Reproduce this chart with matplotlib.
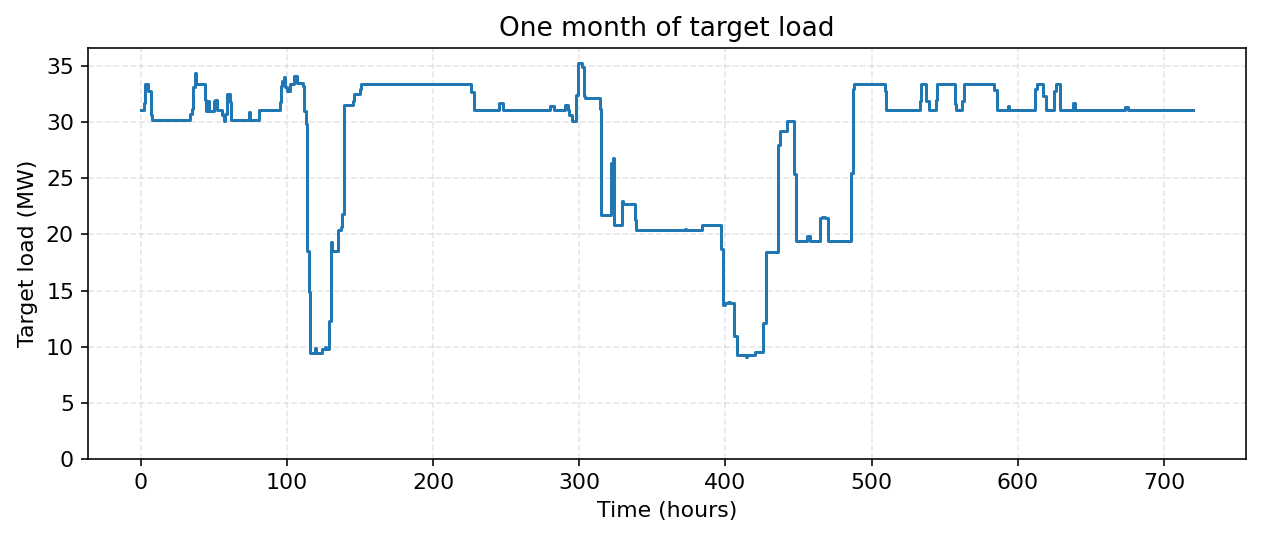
import numpy as np
import matplotlib
matplotlib.use("Agg")
from matplotlib import pyplot as plt

# breakpoints of the hourly target load (value holds until next hour listed)
hours = [0, 2, 3, 5, 7, 8, 34, 35, 36, 37, 38, 44, 45, 46, 47, 50, 51, 52,
         56, 57, 58, 59, 61, 62, 74, 75, 81, 95, 96, 97, 98, 99, 100, 102,
         105, 107, 111, 112, 113, 114, 115, 116, 119, 120, 124, 126, 127,
         129, 130, 131, 135, 137, 138, 139, 145, 146, 150, 151, 226, 228,
         245, 248, 280, 283, 290, 292, 293, 295, 298, 299, 302, 303, 304,
         314, 315, 322, 323, 324, 329, 330, 338, 339, 372, 373, 384, 397,
         398, 400, 402, 403, 406, 408, 414, 415, 420, 424, 426, 428, 436,
         437, 442, 447, 448, 456, 458, 465, 466, 468, 470, 486, 487, 488,
         509, 510, 533, 534, 537, 539, 544, 545, 557, 558, 562, 563, 584,
         586, 593, 594, 612, 613, 617, 619, 625, 626, 629, 638, 639, 673,
         675, 720]
load = [31.1, 31.7, 33.4, 32.8, 30.6, 30.2, 30.7, 31.2, 33.1, 34.4, 33.4,
        32.0, 31.0, 31.9, 31.0, 31.9, 32.0, 31.1, 30.6, 30.1, 30.7, 32.5,
        31.8, 30.2, 30.9, 30.2, 31.1, 31.8, 33.2, 33.7, 34.0, 33.1, 32.8,
        33.4, 34.1, 33.5, 33.2, 31.0, 29.8, 18.5, 14.9, 9.4, 9.9, 9.4, 9.8,
        10.0, 9.8, 12.3, 19.3, 18.5, 20.4, 20.7, 21.8, 31.5, 31.9, 32.5,
        33.0, 33.4, 32.7, 31.1, 31.7, 31.1, 31.4, 31.1, 31.55, 31.1, 30.6,
        30.1, 32.4, 35.3, 34.9, 32.3, 32.2, 31.2, 21.7, 26.4, 26.8, 20.8,
        23.0, 22.7, 21.3, 20.4, 20.5, 20.4, 20.8, 18.7, 13.7, 13.9, 14.0,
        13.9, 11.0, 9.3, 9.1, 9.3, 9.5, 9.55, 12.1, 18.4, 28.0, 29.2, 30.1,
        25.4, 19.4, 19.9, 19.4, 21.5, 21.6, 21.5, 19.4, 25.5, 33.0, 33.4,
        32.8, 31.1, 31.9, 33.4, 31.9, 31.1, 32.0, 33.4, 31.6, 31.1, 31.9,
        33.4, 32.9, 31.1, 31.4, 31.1, 33.0, 33.4, 32.3, 31.1, 32.8, 33.4,
        31.1, 31.7, 31.1, 31.35, 31.1, 31.1]

plt.rcParams["font.size"] = 11

fig = plt.figure(figsize=(1262 / 144, 540 / 144), dpi=144)
ax = fig.add_axes([0.0697, 0.15, 0.9176, 0.7611])

ax.plot(hours, load, drawstyle="steps-post", color="#1f77b4", linewidth=1.5)
ax.set_ylim(bottom=0)

ax.set_title("One month of target load")
ax.set_xlabel("Time (hours)")
ax.set_ylabel("Target load (MW)")
ax.grid(True, linestyle="--", alpha=0.3)

fig.savefig("out.png", dpi=144)
